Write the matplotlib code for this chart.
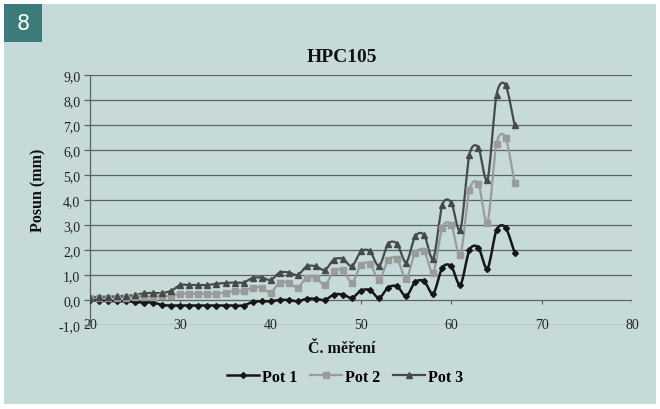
import numpy as np
import matplotlib
matplotlib.use("Agg")
import matplotlib.pyplot as plt
from matplotlib.path import Path
from matplotlib.patches import PathPatch, Rectangle
from matplotlib.lines import Line2D

# measurement numbers 20..67
mereni = list(range(20, 68))

pot1 = [0.00, -0.02, -0.03, -0.05, -0.05, -0.08, -0.10, -0.10, -0.20, -0.22,
        -0.22, -0.22, -0.22, -0.22, -0.22, -0.22, -0.22, -0.22, -0.08, -0.05,
        -0.05, 0.00, 0.00, -0.05, 0.05, 0.05, 0.00, 0.22, 0.22, 0.08,
        0.38, 0.40, 0.08, 0.50, 0.55, 0.15, 0.72, 0.75, 0.25, 1.30,
        1.35, 0.60, 2.00, 2.10, 1.25, 2.80, 2.90, 1.90]

pot2 = [0.10, 0.10, 0.10, 0.10, 0.10, 0.12, 0.12, 0.12, 0.15, 0.15,
        0.25, 0.25, 0.25, 0.25, 0.25, 0.30, 0.35, 0.35, 0.50, 0.50,
        0.30, 0.70, 0.70, 0.50, 0.90, 0.90, 0.60, 1.15, 1.20, 0.70,
        1.40, 1.45, 0.80, 1.60, 1.65, 0.85, 1.90, 1.95, 1.10, 2.90,
        3.00, 1.80, 4.40, 4.65, 3.10, 6.25, 6.50, 4.70]

pot3 = [0.10, 0.12, 0.13, 0.15, 0.17, 0.20, 0.27, 0.28, 0.28, 0.37,
        0.60, 0.60, 0.60, 0.60, 0.65, 0.68, 0.70, 0.70, 0.88, 0.90,
        0.80, 1.10, 1.10, 1.00, 1.35, 1.35, 1.20, 1.62, 1.65, 1.35,
        1.95, 1.95, 1.35, 2.25, 2.25, 1.50, 2.55, 2.60, 1.65, 3.80,
        3.90, 2.80, 5.80, 6.10, 4.80, 8.20, 8.60, 7.00]

series_names = ["Pot 1", "Pot 2", "Pot 3"]
x_ticks = [20, 30, 40, 50, 60, 70, 80]
y_ticks = [-1, 0, 1, 2, 3, 4, 5, 6, 7, 8, 9]

bg = "#c6dbd9"
serif = "Liberation Serif"


def smooth_path(xs, ys):
    # Excel-like smoothed line: cubic bezier through the points
    xs = np.asarray(xs, float)
    ys = np.asarray(ys, float)
    pts = np.column_stack([xs, ys])
    verts = [pts[0]]
    codes = [Path.MOVETO]
    n = len(pts)
    for i in range(n - 1):
        p0 = pts[i - 1] if i > 0 else pts[i]
        p1 = pts[i]
        p2 = pts[i + 1]
        p3 = pts[i + 2] if i + 2 < n else pts[i + 1]
        c1 = p1 + (p2 - p0) / 7.0
        c2 = p2 - (p3 - p1) / 7.0
        verts += [c1, c2, p2]
        codes += [Path.CURVE4] * 3
    return Path(verts, codes)


fig = plt.figure(figsize=(6.6, 4.1), dpi=100, facecolor="white")
fig.patches.append(Rectangle((4 / 660, 5 / 410), 652 / 660, 400 / 410,
                             transform=fig.transFigure, facecolor=bg,
                             edgecolor="none", zorder=-10))
fig.patches.append(Rectangle((4 / 660, 1 - 43 / 410), 38 / 660, 38 / 410,
                             transform=fig.transFigure, facecolor="#3b7b79",
                             edgecolor="none", zorder=-5))
fig.text(23 / 660, 1 - 24 / 410, "8", color="white", fontsize=15,
         family="DejaVu Sans", ha="center", va="center")

ax = fig.add_axes([90 / 660, 1 - 326 / 410, 542 / 660, 250 / 410])
ax.set_facecolor(bg)
ax.set_xlim(20, 80)
ax.set_ylim(-1, 9)

for yv in y_ticks:
    ax.axhline(yv, color="#5d6262", lw=0.9, zorder=1)

styles = [
    dict(color="#161616", marker="D", ms=3, mfc="#161616", lw=1.8),
    dict(color="#9a9c9c", marker="s", ms=4, mfc="#9a9c9c", lw=1.6),
    dict(color="#474a4a", marker="^", ms=4, mfc="#474a4a", lw=1.6),
]
handles = []
for vals, st, name in zip([pot1, pot2, pot3], styles, series_names):
    patch = PathPatch(smooth_path(mereni, vals), facecolor="none",
                      edgecolor=st["color"], lw=st["lw"], zorder=3)
    ax.add_patch(patch)
    ax.plot(mereni, vals, ls="none", marker=st["marker"], ms=st["ms"],
            color=st["color"], mfc=st["mfc"], mec=st["color"], zorder=4)
    handles.append(Line2D([], [], color=st["color"], lw=st["lw"],
                          marker=st["marker"], ms=st["ms"], mfc=st["mfc"],
                          mec=st["color"]))

# x axis crosses at 0 with small tick marks
ax.vlines(x_ticks, -0.15, 0, color="#5d6262", lw=0.9, zorder=1)

for s in ["top", "right", "bottom"]:
    ax.spines[s].set_visible(False)
ax.spines["left"].set_color("#5d6262")
ax.spines["left"].set_linewidth(0.9)

ax.set_xticks(x_ticks)
ax.set_xticklabels([str(v) for v in x_ticks], family=serif, fontsize=10,
                   color="#222222")
ax.tick_params(axis="x", length=0, pad=-5)
ax.set_yticks(y_ticks)
ax.set_yticklabels([f"{v:.1f}".replace(".", ",") for v in y_ticks],
                   family=serif, fontsize=10, color="#222222")
ax.tick_params(axis="y", length=4, width=0.9, color="#5d6262", pad=3)

fig.text(342 / 660, 1 - 57 / 410, "HPC105", family=serif, fontsize=14,
         weight="bold", ha="center", va="center", color="#111111")
fig.text(342 / 660, 1 - 349 / 410, "Č. měření", family=serif, fontsize=11.5,
         weight="bold", ha="center", va="center", color="#111111")
fig.text(38 / 660, 1 - 190 / 410, "Posun (mm)", family=serif, fontsize=11.5,
         weight="bold", ha="center", va="center", rotation=90,
         color="#111111")

fig.legend(handles, series_names, loc="center", ncol=3,
           bbox_to_anchor=(345 / 660, 1 - 378 / 410), frameon=False,
           prop=dict(family=serif, size=11.5, weight="bold"),
           handlelength=2.0, handletextpad=0.2, columnspacing=0.8)

fig.savefig("out.png", dpi=100, facecolor="white")
